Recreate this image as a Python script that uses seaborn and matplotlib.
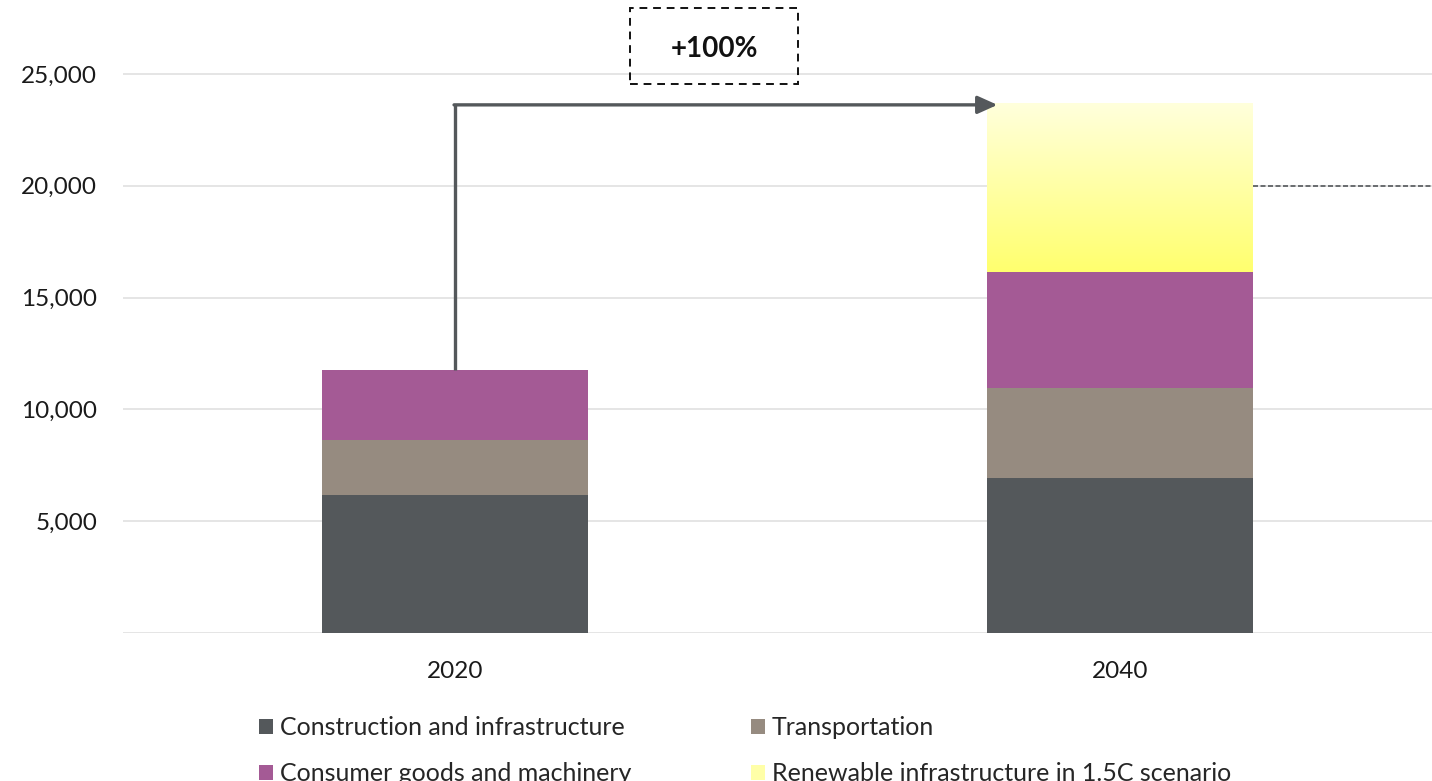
import numpy as np
import pandas as pd
import matplotlib
matplotlib.use("Agg")
import matplotlib.pyplot as plt
import seaborn as sns
from matplotlib.patches import Rectangle, Patch
from matplotlib.colors import LinearSegmentedColormap

# Material demand by sector (stacked)
years = ["2020", "2040"]
construction = [6150, 6950]
transportation = [2500, 4000]
consumer_goods = [3100, 5200]
renewables = [0, 7550]
series_names = ["Construction and infrastructure", "Transportation",
                "Consumer goods and machinery", "Renewable infrastructure in 1.5C scenario"]
y_ticks = [0, 5000, 10000, 15000, 20000, 25000]
y_tick_labels = ["", "5,000", "10,000", "15,000", "20,000", "25,000"]
growth_label = "+100%"
reference_level = 20000

colors = ["#54585B", "#968B80", "#A45A95", "#FFFF8C"]

sns.set_theme(style="white")
plt.rcParams["font.family"] = ["Lato", "DejaVu Sans"]
FS = 17.5

df = pd.DataFrame({
    "year": years,
    series_names[0]: construction,
    series_names[1]: transportation,
    series_names[2]: consumer_goods,
    series_names[3]: renewables,
})
cum = df[series_names].cumsum(axis=1)

fig = plt.figure(figsize=(14.32, 7.81), dpi=100)
ax = fig.add_axes([123 / 1432, (781 - 633) / 781, (1432 - 123) / 1432, 633 / 781])

# Stacked bars: draw cumulative totals from tallest to shortest
bar_containers = {}
for name, col in zip(series_names[::-1], colors[::-1]):
    before = set(ax.patches)
    sns.barplot(x=df["year"], y=cum[name], color=col, width=0.4,
                saturation=1, ax=ax, zorder=2, linewidth=0)
    bar_containers[name] = [p for p in ax.patches if p not in before]

# Vertical yellow gradient for the renewables segment
grad_cmap = LinearSegmentedColormap.from_list("ren", ["#FFFF6E", "#FFFFDC"])
for i, patch in enumerate(bar_containers[series_names[3]]):
    lo = cum[series_names[2]][i]
    hi = cum[series_names[3]][i]
    if hi <= lo:
        continue
    x0 = patch.get_x()
    w = patch.get_width()
    grad = np.linspace(0, 1, 256).reshape(-1, 1)
    im = ax.imshow(grad, extent=[x0, x0 + w, lo, hi], origin="lower",
                   cmap=grad_cmap, aspect="auto", zorder=2.5)
    clip = Rectangle((x0, lo), w, hi - lo, transform=ax.transData)
    im.set_clip_path(clip)

ax.set_xlim(-0.5, 1.47)
ax.set_ylim(0, 28310)
ax.set_yticks(y_ticks)
ax.set_yticklabels(y_tick_labels)
ax.set_xlabel("")
ax.set_ylabel("")
ax.yaxis.grid(True, color="#E3E3E3", linewidth=1.3, zorder=0)
ax.set_axisbelow(True)
sns.despine(ax=ax, left=True, bottom=True)
ax.tick_params(axis="both", length=0, labelsize=FS, colors="#1A1A1A")
ax.tick_params(axis="y", pad=18.5)
ax.tick_params(axis="x", pad=20)

# Growth arrow from the 2020 total to the 2040 total
total_2020 = cum[series_names[3]][0]
total_2040 = cum[series_names[3]][1]
arrow_y = total_2040 - 80
arrow_color = "#54585B"
ax.plot([0, 0], [total_2020, arrow_y], color=arrow_color, lw=2.4,
        solid_capstyle="butt", zorder=3, clip_on=False)
ax.annotate("", xy=(0.816, arrow_y), xytext=(-0.0018, arrow_y),
            arrowprops=dict(arrowstyle="-|>,head_length=1.0,head_width=0.45",
                            color=arrow_color, lw=2.4, shrinkA=0, shrinkB=0),
            zorder=3, annotation_clip=False)

# Dashed label box
box = Rectangle((0.263, 24560), 0.253, 3390, fill=False, edgecolor="#111111",
                linestyle=(0, (4, 3)), lw=1.4, clip_on=False, zorder=4)
ax.add_patch(box)
ax.text(0.3895, 26120, growth_label, ha="center", va="center",
        fontsize=20, fontweight="bold", color="#111111", clip_on=False)

# Reference dashed line right of the 2040 bar
ax.plot([1.2, 1.47], [reference_level, reference_level], color="#54585B",
        lw=1.2, linestyle=(0, (3, 1.5)), zorder=3, clip_on=False)

# Legend filled row by row (column-major order for ncol=2)
handles = [Patch(facecolor=c, edgecolor="none") for c in colors[:3]] + \
          [Patch(facecolor="#FFFFA8", edgecolor="none")]
order = [0, 2, 1, 3]
fig.legend([handles[i] for i in order], [series_names[i] for i in order],
           loc="upper left", ncol=2,
           bbox_to_anchor=(259 / 1432, 1 - 716 / 781), frameon=False,
           fontsize=18, handlelength=0.56, handleheight=0.56,
           handletextpad=0.3, columnspacing=4.75, labelspacing=0.93,
           borderpad=0, borderaxespad=0)

fig.savefig("out.png", dpi=100)
